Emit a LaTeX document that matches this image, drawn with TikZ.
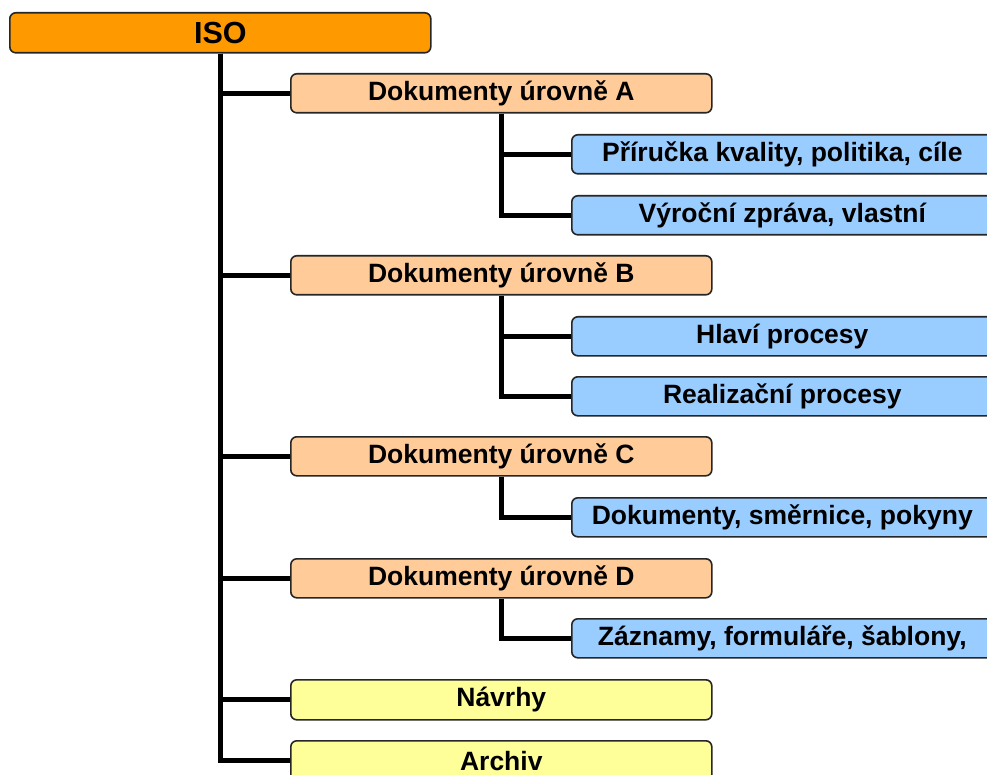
\documentclass[tikz,border=0pt]{standalone}
\usepackage{fontspec}
\setmainfont{Liberation Sans}
\usetikzlibrary{backgrounds}
\definecolor{isoorange}{HTML}{FF9900}
\definecolor{lvlorange}{HTML}{FFCC99}
\definecolor{subblue}{HTML}{99CCFF}
\definecolor{otheryellow}{HTML}{FFFF99}
\begin{document}
\begin{tikzpicture}[x=1pt,y=-1pt,
  box/.style={draw=black!85, line width=1.6pt, rounded corners=6pt,
    minimum width=421pt, minimum height=39pt, inner sep=0pt, anchor=north west,
    font=\fontsize{26.5}{30}\selectfont\bfseries},
  topbox/.style={box, fill=isoorange, minimum height=40pt,
    font=\fontsize{30.5}{34}\selectfont\bfseries},
  lvlbox/.style={box, fill=lvlorange},
  subbox/.style={box, fill=subblue},
  otherbox/.style={box, fill=otheryellow, minimum height=40pt},
  link/.style={line width=5pt}]
\clip (0,0) rectangle (987,775);

\node[topbox] (iso) at (9,12) {ISO};

\node[lvlbox] (A) at (290,73) {Dokumenty úrovně A};
\node[subbox] (A1) at (571,134) {Příručka kvality, politika, cíle};
\node[subbox] (A2) at (571,195) {Výroční zpráva, vlastní};

\node[lvlbox] (B) at (290,255) {Dokumenty úrovně B};
\node[subbox] (B1) at (571,316) {Hlaví procesy};
\node[subbox] (B2) at (571,376) {Realizační procesy};

\node[lvlbox] (C) at (290,436) {Dokumenty úrovně C};
\node[subbox] (C1) at (571,497) {Dokumenty, směrnice, pokyny};

\node[lvlbox] (D) at (290,558) {Dokumenty úrovně D};
\node[subbox] (D1) at (571,618) {Záznamy, formuláře, šablony,};

\node[otherbox] (N) at (290,679) {Návrhy};
\node[otherbox] (R) at (290,740) {Archiv};

\begin{scope}[on background layer]
  \fill[white] (0,0) rectangle (987,775);
  % trunk and branches to the first level
  \foreach \n in {A,B,C,D,N,R}
    \draw[link] (iso.south) |- (\n.west);
  % branches to the second level
  \foreach \p/\c in {A/A1,A/A2,B/B1,B/B2,C/C1,D/D1}
    \draw[link] (\p.south) |- (\c.west);
\end{scope}
\end{tikzpicture}
\end{document}
